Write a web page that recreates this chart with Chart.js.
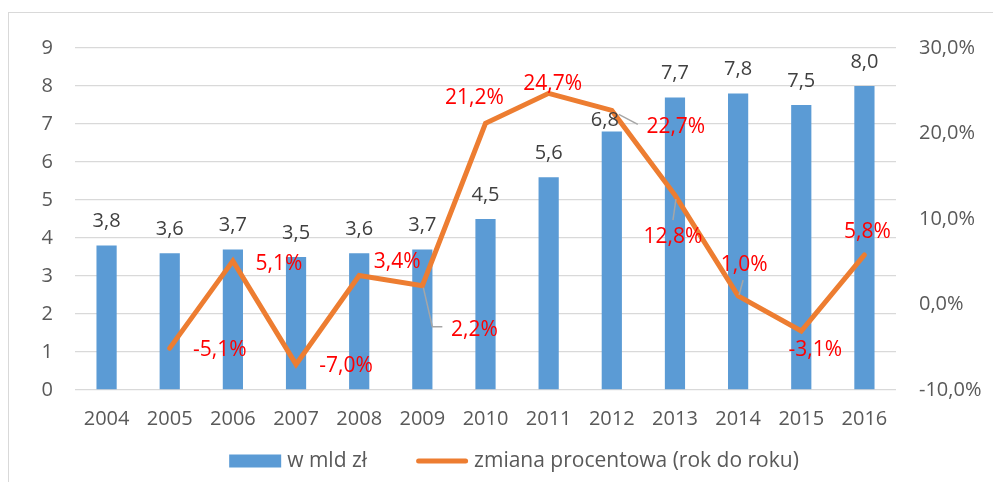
<!DOCTYPE html>
<html>
<head>
<meta charset="utf-8">
<script src="https://cdn.jsdelivr.net/npm/chart.js@4.4.1/dist/chart.umd.min.js"></script>
<style>
html, body { margin: 0; padding: 0; background: #fff; }
#frame { position: absolute; left: 8px; top: 12px; width: 1000px; height: 500px; border: 1px solid #d9d9d9; }
#wrap { position: absolute; left: 0; top: 0; width: 993px; height: 482px; }
</style>
</head>
<body>
<div id="frame"></div>
<div id="wrap"><canvas id="myChart"></canvas></div>
<script>
let years = ['2004', '2005', '2006', '2007', '2008', '2009', '2010', '2011', '2012', '2013', '2014', '2015', '2016'];
let valuesBln = [3.8, 3.6, 3.7, 3.5, 3.6, 3.7, 4.5, 5.6, 6.8, 7.7, 7.8, 7.5, 8.0];
let changePct = [null, -5.1, 5.1, -7.0, 3.4, 2.2, 21.2, 24.7, 22.7, 12.8, 1.0, -3.1, 5.8];

let ctx = document.getElementById('myChart').getContext('2d');

Chart.defaults.font.family = "'Open Sans', sans-serif";
Chart.defaults.font.size = 20;
Chart.defaults.color = '#595959';

function fmt(v) {
    return v.toFixed(1).replace('.', ',');
}

// draws the value labels (bars grey, line red) and the little leader lines
var labelPlugin = {
    id: 'valueLabels',
    afterDatasetsDraw: function (chart, args, options) {
        let ctx = chart.ctx;
        ctx.save();
        ctx.font = "20px 'Open Sans', sans-serif";
        ctx.textAlign = 'center';
        ctx.textBaseline = 'middle';

        let barMeta = chart.getDatasetMeta(0);
        ctx.fillStyle = '#404040';
        barMeta.data.forEach(function (el, i) {
            let off = options.barOffsets[i] || [0, -24];
            ctx.fillText(fmt(valuesBln[i]), el.x + off[0], el.y + off[1]);
        });

        let lineMeta = chart.getDatasetMeta(1);
        ctx.strokeStyle = '#a6a6a6';
        ctx.lineWidth = 1.5;
        lineMeta.data.forEach(function (el, i) {
            let lead = options.leaders[i];
            if (!lead || changePct[i] === null) return;
            ctx.beginPath();
            ctx.moveTo(el.x + lead[0][0], el.y + lead[0][1]);
            for (let k = 1; k < lead.length; k++) {
                ctx.lineTo(el.x + lead[k][0], el.y + lead[k][1]);
            }
            ctx.stroke();
        });

        ctx.font = "21px 'Open Sans', sans-serif";
        ctx.fillStyle = '#ff0000';
        lineMeta.data.forEach(function (el, i) {
            if (changePct[i] === null) return;
            let off = options.lineOffsets[i];
            ctx.fillText(fmt(changePct[i]) + '%', el.x + off[0], el.y + off[1]);
        });
        ctx.restore();
    }
};

// legend like the Excel one: box for the bars, thick line for the line series
var legendPlugin = {
    id: 'excelLegend',
    afterDraw: function (chart, args, options) {
        let ctx = chart.ctx;
        let ds = chart.data.datasets;
        ctx.save();
        ctx.font = "21px 'Open Sans', sans-serif";
        ctx.textBaseline = 'middle';
        ctx.textAlign = 'left';
        let w0 = ctx.measureText(ds[0].label).width;
        let w1 = ctx.measureText(ds[1].label).width;
        let total = options.symbolWidth * 2 + options.textGap * 2 + w0 + w1 + options.itemGap;
        let x = options.centerX - total / 2;
        let y = options.y;

        ctx.fillStyle = ds[0].backgroundColor;
        ctx.fillRect(x, y - 6.5, options.symbolWidth, 13);
        x += options.symbolWidth + options.textGap;
        ctx.fillStyle = '#595959';
        ctx.fillText(ds[0].label, x, y);
        x += w0 + options.itemGap;

        ctx.strokeStyle = ds[1].borderColor;
        ctx.lineWidth = 5;
        ctx.lineCap = 'round';
        ctx.beginPath();
        ctx.moveTo(x + 2.5, y);
        ctx.lineTo(x + options.symbolWidth - 2.5, y);
        ctx.stroke();
        x += options.symbolWidth + options.textGap;
        ctx.fillText(ds[1].label, x, y);
        ctx.restore();
    }
};

let myChart = new Chart(ctx, {
    type: 'bar',
    data: {
        labels: years,
        datasets: [{
            type: 'bar',
            label: 'w mld zł',
            data: valuesBln,
            backgroundColor: '#5b9bd5',
            borderWidth: 0,
            barPercentage: 0.32,
            categoryPercentage: 1,
            yAxisID: 'y',
            order: 2
        }, {
            type: 'line',
            label: 'zmiana procentowa (rok do roku)',
            data: changePct,
            borderColor: '#ed7d31',
            backgroundColor: '#ed7d31',
            borderWidth: 5,
            borderCapStyle: 'round',
            pointRadius: 0,
            tension: 0,
            yAxisID: 'y2',
            order: 1
        }]
    },
    options: {
        responsive: true,
        maintainAspectRatio: false,
        animation: false,
        layout: { padding: { left: 0, right: 0, top: 48, bottom: 42 } },
        scales: {
            x: {
                grid: { display: false },
                border: { display: false },
                ticks: { padding: 9, color: '#595959', maxRotation: 0, autoSkip: false }
            },
            y: {
                position: 'left',
                min: 0,
                max: 9,
                ticks: { stepSize: 1, padding: 22, color: '#595959' },
                grid: { color: '#d9d9d9', lineWidth: 1.3, drawTicks: false },
                border: { display: false },
                afterFit: function (axis) { axis.width = 75; }
            },
            y2: {
                position: 'right',
                min: -10,
                max: 30,
                ticks: {
                    stepSize: 10,
                    padding: 23,
                    color: '#595959',
                    callback: function (v) { return fmt(v) + '%'; }
                },
                grid: { display: false, drawTicks: false },
                border: { display: false },
                afterFit: function (axis) { axis.width = 97; }
            }
        },
        plugins: {
            legend: { display: false },
            tooltip: { enabled: false },
            excelLegend: { centerX: 514, y: 461, symbolWidth: 52, textGap: 6, itemGap: 49 },
            valueLabels: {
                barOffsets: { 8: [-7, -11] },
                lineOffsets: [null, [50, 2], [46, 3], [50, 2], [38, -13], [52, 44], [-11, -25],
                              [4, -9], [64, 17], [-2, 42], [6, -31], [14, 19], [3, -23]],
                leaders: {
                    5: [[1, 2], [10, 41], [20, 41]],
                    8: [[7, 4], [26, 14]],
                    9: [[1, 4], [-2, 25]],
                    10: [[5, -16], [1, -1]]
                }
            }
        }
    },
    plugins: [labelPlugin, legendPlugin]
});
</script>
</body>
</html>
